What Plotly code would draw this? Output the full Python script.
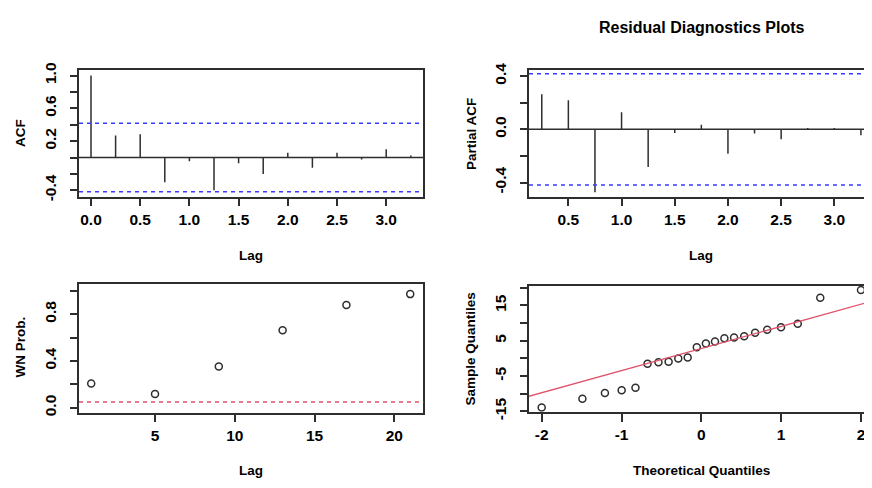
import numpy as np
import plotly.graph_objects as go

# the page body adds an 8 px margin around the plot div
OFF = 8
W, H = 872 - OFF, 488 - OFF

# ---------------- data ----------------
acf_lag = [0.0, 0.25, 0.5, 0.75, 1.0, 1.25, 1.5, 1.75, 2.0, 2.25, 2.5, 2.75, 3.0, 3.25]
acf_val = [1.0, 0.268, 0.283, -0.303, -0.047, -0.40, -0.07, -0.20, 0.059, -0.126, 0.059, -0.024, 0.102, 0.024]

pacf_lag = [0.25, 0.5, 0.75, 1.0, 1.25, 1.5, 1.75, 2.0, 2.25, 2.5, 2.75, 3.0, 3.25]
pacf_val = [0.264, 0.218, -0.473, 0.128, -0.284, -0.027, 0.034, -0.184, -0.032, -0.075, 0.01, 0.01, -0.044]

ci_bound = 0.418

wn_lag = [1, 5, 9, 13, 17, 21]
wn_prob = [0.207, 0.118, 0.353, 0.664, 0.879, 0.972]
wn_level = 0.05

qq_theoretical = [-2.000, -1.490, -1.208, -0.998, -0.825, -0.674, -0.537, -0.410, -0.289, -0.171, -0.057,
                  0.057, 0.171, 0.289, 0.410, 0.537, 0.674, 0.825, 0.998, 1.208, 1.490, 2.000]
qq_sample = [-13.9, -11.4, -9.8, -9.0, -8.3, -1.5, -1.1, -0.9, 0.0, 0.3, 3.2,
             4.2, 4.8, 5.7, 5.9, 6.3, 7.3, 8.1, 8.8, 9.8, 17.2, 19.4]

title_text = "Residual Diagnostics Plots"

# ---------------- helpers ----------------
FONT = "Liberation Sans, Arial, sans-serif"
INK = "#2e2e2e"
TXT = "#000000"
BLUE = "#3b3bff"
RED = "#DF536B"


def px_x(p):
    return (p - OFF) / W


def px_y(p):
    return 1 - (p - OFF) / H


def stems(xs, ys):
    sx, sy = [], []
    for x, y in zip(xs, ys):
        sx += [x, x, None]
        sy += [0, y, None]
    return sx, sy


fig = go.Figure()

sx, sy = stems(acf_lag, acf_val)
fig.add_trace(go.Scatter(x=sx, y=sy, mode="lines", line=dict(color=INK, width=1.5),
                         xaxis="x", yaxis="y", showlegend=False, hoverinfo="skip"))
sx, sy = stems(pacf_lag, pacf_val)
fig.add_trace(go.Scatter(x=sx, y=sy, mode="lines", line=dict(color=INK, width=1.5),
                         xaxis="x2", yaxis="y2", showlegend=False, hoverinfo="skip"))
fig.add_trace(go.Scatter(x=wn_lag, y=wn_prob, mode="markers",
                         marker=dict(symbol="circle-open", size=7, color=INK, line=dict(width=1.5, color=INK)),
                         xaxis="x3", yaxis="y3", showlegend=False))
fig.add_trace(go.Scatter(x=qq_theoretical, y=qq_sample, mode="markers",
                         marker=dict(symbol="circle-open", size=7, color=INK, line=dict(width=1.5, color=INK)),
                         xaxis="x4", yaxis="y4", showlegend=False))
# QQ reference line through the quartiles
q1, q3 = np.quantile(qq_sample, [0.25, 0.75])
slope = (q3 - q1) / (0.6744898 * 2)
inter = (q1 + q3) / 2
lx = np.array([-3.0, 3.0])
fig.add_trace(go.Scatter(x=lx, y=inter + slope * lx, mode="lines", line=dict(color=RED, width=1.4),
                         xaxis="x4", yaxis="y4", showlegend=False, hoverinfo="skip"))

shapes = []
for xr, yr, yv, col, dash in [
    ("x", "y", 0, INK, "solid"),
    ("x", "y", ci_bound, BLUE, "4px,4px"),
    ("x", "y", -ci_bound, BLUE, "4px,4px"),
    ("x2", "y2", 0, INK, "solid"),
    ("x2", "y2", ci_bound, BLUE, "4px,4px"),
    ("x2", "y2", -ci_bound, BLUE, "4px,4px"),
    ("x3", "y3", wn_level, RED, "4px,4px"),
]:
    shapes.append(dict(type="line", xref=f"{xr} domain", x0=0, x1=1, yref=yr, y0=yv, y1=yv,
                       line=dict(color=col, width=1.5 if col != RED else 1.4, dash=dash), layer="above"))

tickfont = dict(family=FONT, size=15.5, color=TXT, weight="bold")


def xax(domain, rng, vals, anchor, mirror=True):
    texts = [f"{v:.1f}" if isinstance(v, float) else str(v) for v in vals]
    return dict(domain=domain, range=rng, anchor=anchor, tickvals=vals, ticktext=texts,
                showgrid=False, zeroline=False, showline=True, mirror=mirror, linecolor=INK, linewidth=1.5,
                ticks="outside", ticklen=8, tickwidth=1.5, tickcolor=INK, tickfont=tickfont,
                ticklabelstandoff=0)


def yax(domain, rng, vals, texts, anchor, mirror=True):
    return dict(domain=domain, range=rng, anchor=anchor, tickvals=vals, ticktext=texts,
                showgrid=False, zeroline=False, showline=True, mirror=mirror, linecolor=INK, linewidth=1.5,
                ticks="outside", ticklen=7, tickwidth=1.5, tickcolor=INK, tickfont=tickfont,
                tickangle=-90, ticklabelstandoff=8)


layout = dict(
    width=W, height=H, margin=dict(l=0, r=0, t=0, b=0),
    paper_bgcolor="white", plot_bgcolor="white", showlegend=False,
    xaxis=xax([px_x(79), px_x(423)], [-0.122, 3.374], [0.0, 0.5, 1.0, 1.5, 2.0, 2.5, 3.0], "y"),
    yaxis=yax([px_y(196), px_y(65)], [-0.479, 1.067], [-0.4, -0.2, 0, 0.2, 0.4, 0.6, 0.8, 1.0],
              ["-0.4", "", "", "0.2", "", "0.6", "", "1.0"], "x"),
    xaxis2=xax([px_x(529), 1.0], [0.13, 3.354], [0.5, 1.0, 1.5, 2.0, 2.5, 3.0], "y2"),
    yaxis2=yax([px_y(196), px_y(65.3)], [-0.507, 0.4436], [-0.4, -0.2, 0, 0.2, 0.4],
               ["-0.4", "", "0.0", "", "0.4"], "x2", mirror=False),
    xaxis3=xax([px_x(79), px_x(423.3)], [0.235, 21.82], [5, 10, 15, 20], "y3"),
    yaxis3=yax([px_y(419.3), px_y(286.7)], [-0.041, 1.055], [0, 0.2, 0.4, 0.6, 0.8, 1.0],
               ["0.0", "", "0.4", "", "0.8", ""], "x3"),
    xaxis4=xax([px_x(529), 1.0], [-2.159, 2.138], [-2, -1, 0, 1, 2], "y4"),
    yaxis4=yax([px_y(418.5), px_y(288)], [-15.1, 20.6], [-15, -10, -5, 0, 5, 10, 15, 20],
               ["-15", "", "-5", "", "5", "", "15", ""], "x4", mirror=False),
    shapes=shapes,
)
fig.update_layout(**layout)

anns = [
    (title_text, 701, 21, 0, 16),
    ("ACF", 21, 130, -90, 13.5),
    ("Lag", 251, 257, 0, 13.5),
    ("Partial ACF", 472, 131, -90, 13.5),
    ("Lag", 701, 257, 0, 13.5),
    ("WN Prob.", 21, 352, -90, 13.5),
    ("Lag", 251, 479, 0, 13.5),
    ("Sample Quantiles", 470, 354, -90, 13.5),
    ("Theoretical Quantiles", 701, 479, 0, 13.5),
]
for text, x, y, ang, fs in anns:
    fig.add_annotation(text=text, x=px_x(x), y=px_y(y), xref="paper", yref="paper",
                       xanchor="center", yanchor="middle", showarrow=False, textangle=ang,
                       font=dict(family=FONT, size=fs, color=TXT, weight="bold"))

fig.write_html("out.html")
